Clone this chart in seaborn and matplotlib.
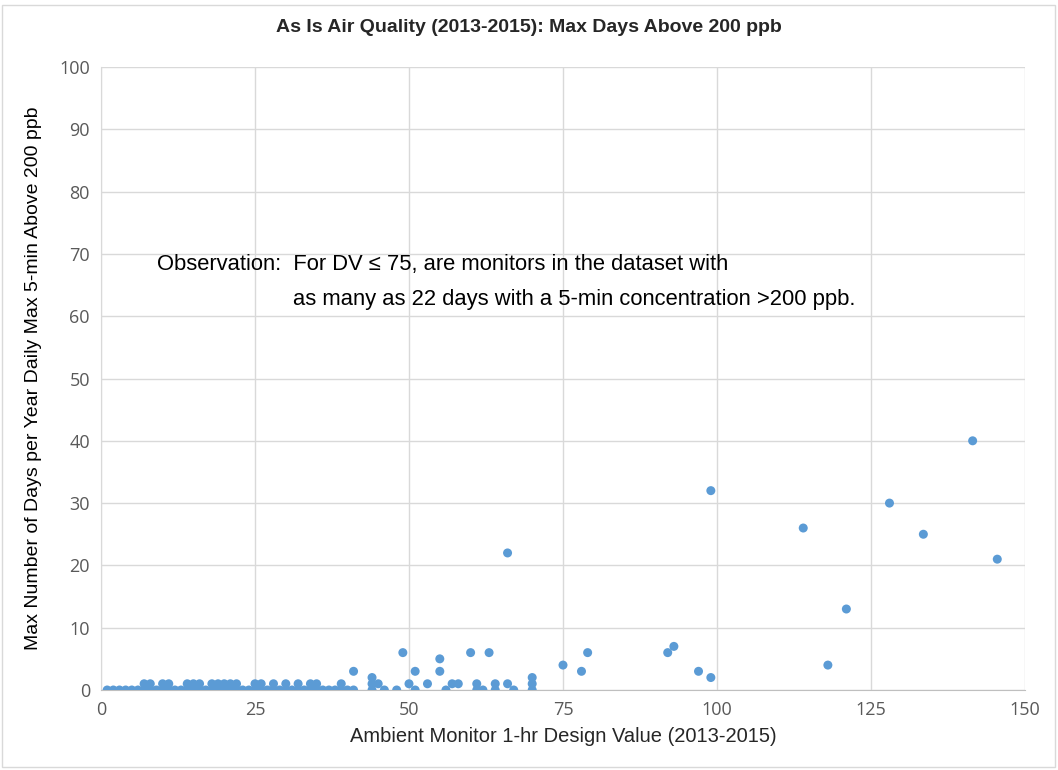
import matplotlib
matplotlib.use('Agg')
import matplotlib.pyplot as plt
import seaborn as sns
import pandas as pd

# design value (x) and max days above 200 ppb (y)
dv_zero = [1, 2, 3, 4, 5, 6, 7, 8, 9, 10, 11, 12, 13, 14, 15, 16, 17, 18, 19, 20,
           21, 22, 23, 24, 25, 26, 27, 28, 29, 30, 31, 32, 33, 34, 35, 36, 37, 38,
           39, 40, 41, 44, 46, 48, 51, 56, 61, 62, 64, 67, 70]
dv_one = [7, 8, 10, 11, 14, 15, 16, 18, 19, 20, 21, 22, 25, 26, 28, 30, 32, 34, 35,
          39, 44, 45, 50, 53, 57, 58, 61, 64, 66, 70]
dv_more = [41, 44, 49, 51, 55, 55, 60, 63, 66, 70, 75, 78, 79, 92, 93, 97, 99, 99,
           114, 118, 121, 128, 133.5, 141.5, 145.5]
days_more = [3, 2, 6, 3, 5, 3, 6, 6, 22, 2, 4, 3, 6, 6, 7, 3, 2, 32,
             26, 4, 13, 30, 25, 40, 21]

df = pd.DataFrame({
    'dv': dv_zero + dv_one + dv_more,
    'days': [0] * len(dv_zero) + [1] * len(dv_one) + days_more,
})

sns.set_style('white')
plt.rcParams['font.family'] = ['Liberation Sans', 'DejaVu Sans']

fig = plt.figure(figsize=(10.58, 7.7), dpi=100)
ax = fig.add_axes([101 / 1058, 80 / 770, 924 / 1058, 623 / 770])

sns.scatterplot(data=df, x='dv', y='days', color='#5B9BD5', s=42, edgecolor='none',
                ax=ax, zorder=3)

ax.set_xlim(0, 150)
ax.set_ylim(0, 100)
ax.set_xticks(range(0, 151, 25))
ax.set_yticks(range(0, 101, 10))
ax.grid(True, color='#d9d9d9', linewidth=1)
for side in ['top', 'right']:
    ax.spines[side].set_visible(False)
ax.spines['left'].set_color('#d9d9d9')
ax.spines['bottom'].set_color('#bfbfbf')
ax.tick_params(colors='#595959', labelsize=13, length=0, pad=8)
for lab in ax.get_xticklabels() + ax.get_yticklabels():
    lab.set_fontfamily(['Open Sans', 'DejaVu Sans'])

ax.set_xlabel('Ambient Monitor 1-hr Design Value (2013-2015)', fontsize=14.5, color='#262626',
              labelpad=6)
ax.set_ylabel('Max Number of Days per Year Daily Max 5-min Above 200 ppb', fontsize=14,
              color='#000000', labelpad=12)
fig.suptitle('As Is Air Quality (2013-2015): Max Days Above 200 ppb', fontsize=14,
             fontweight='bold', y=0.975)

ax.text(9.1, 67.4, 'Observation:  For DV \u2264 75, are monitors in the dataset with',
        fontsize=15.8, color='#000000')
ax.text(31.2, 61.8, 'as many as 22 days with a 5-min concentration >200 ppb.',
        fontsize=15.8, color='#000000')

fig.patches.append(plt.Rectangle((0.002, 0.004), 0.995, 0.99, transform=fig.transFigure,
                                 fill=False, edgecolor='#d9d9d9', linewidth=1))

fig.savefig('out.png', dpi=100)
